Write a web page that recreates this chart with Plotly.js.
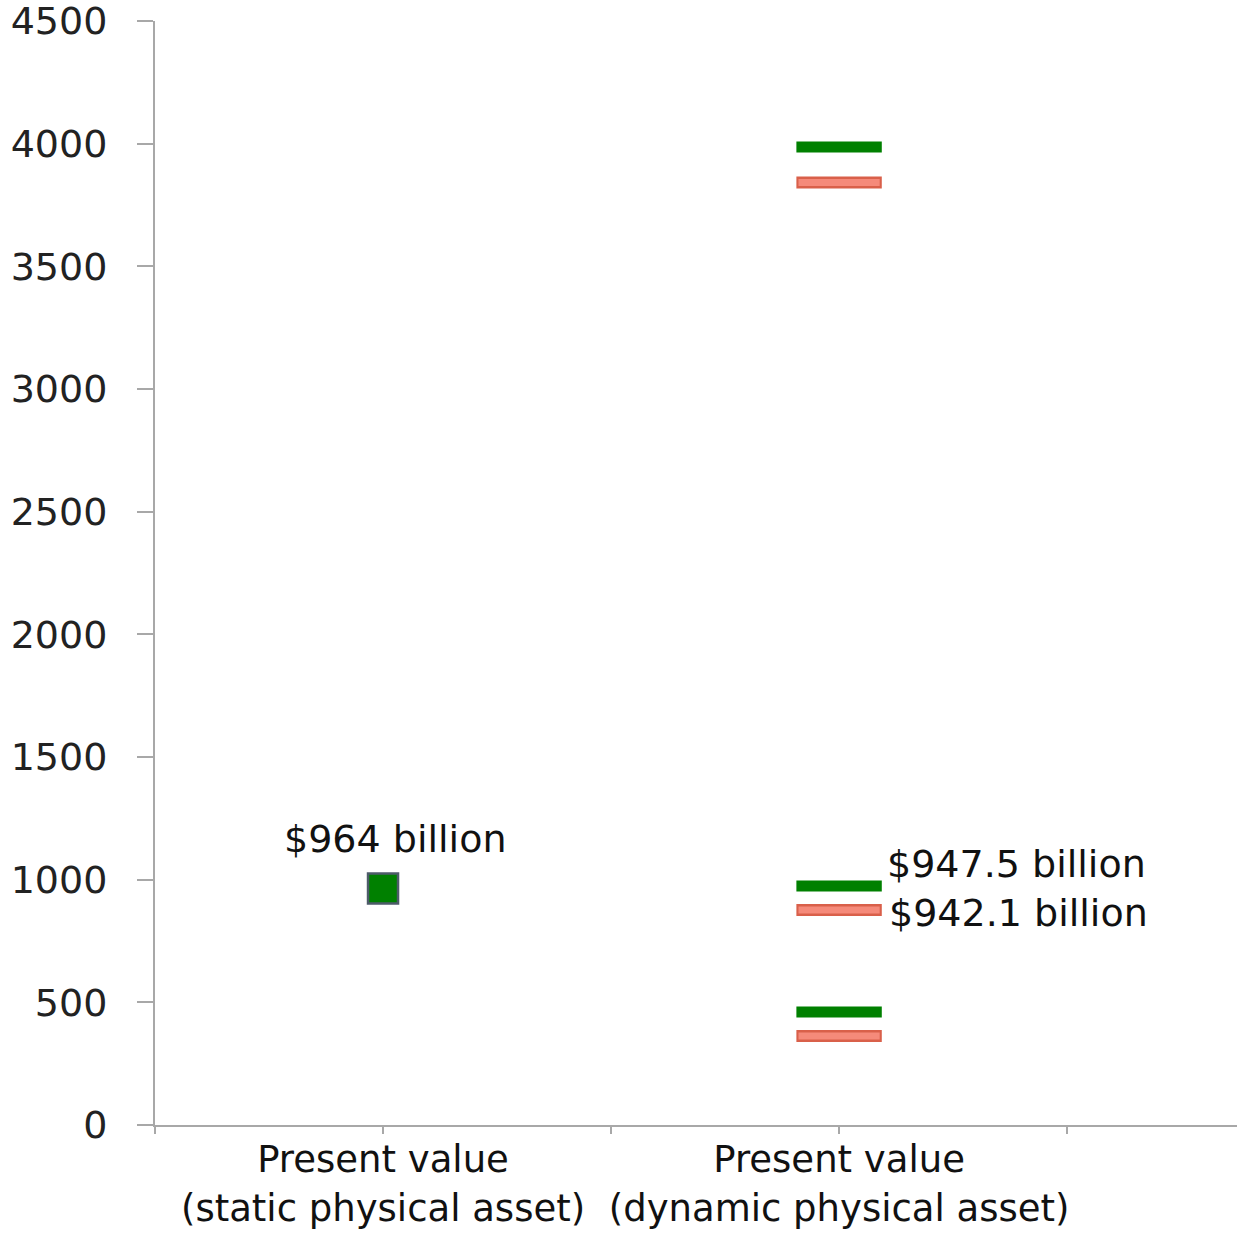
<!DOCTYPE html>
<html>
<head>
<meta charset="utf-8">
<script src="https://cdn.plot.ly/plotly-3.0.1.min.js"></script>
<style>html,body{margin:0;padding:0;background:#fff;}#chart{width:1237px;height:1235px;}</style>
</head>
<body>
<div id="chart"></div>
<script>
// Category positions and labels
const categoryPositions = [1, 3];
const categoryLabels = ['Present value<br>(static physical asset)', 'Present value<br>(dynamic physical asset)'];
const tickPositions = [0, 1, 2, 3, 4];

// Values (billions of dollars)
const staticValues = [964];
const dynamicGreenValues = [3987, 974, 461];
const dynamicRedValues = [3842, 876, 363];

// Data labels
const staticLabel = '$964 billion';
const dynamicGreenLabel = '$947.5 billion';
const dynamicRedLabel = '$942.1 billion';

const yTicks = [0, 500, 1000, 1500, 2000, 2500, 3000, 3500, 4000, 4500];

const FONT = 'DejaVu Sans';
const greenColor = '#008000';
const redEdge = '#d9604a';
const redFill = '#f58a7a';

const ticktext = tickPositions.map(p => {
  const i = categoryPositions.indexOf(p);
  return i >= 0 ? categoryLabels[i] : '';
});

const traces = [
  {
    type: 'scatter', mode: 'markers',
    x: staticValues.map(() => categoryPositions[0]), y: staticValues,
    marker: {symbol: 'square', size: 30, color: greenColor, line: {color: '#4d5b69', width: 2.5}},
    showlegend: false, hoverinfo: 'y'
  },
  {
    type: 'scatter', mode: 'markers',
    x: dynamicGreenValues.map(() => categoryPositions[1]), y: dynamicGreenValues,
    marker: {symbol: 'line-ew', size: 61, color: greenColor, line: {color: greenColor, width: 11}},
    showlegend: false, hoverinfo: 'y'
  },
  {
    type: 'scatter', mode: 'markers',
    x: dynamicRedValues.map(() => categoryPositions[1]), y: dynamicRedValues,
    marker: {symbol: 'line-ew', size: 61, color: redEdge, line: {color: redEdge, width: 12}},
    showlegend: false, hoverinfo: 'y'
  },
  {
    type: 'scatter', mode: 'markers',
    x: dynamicRedValues.map(() => categoryPositions[1]), y: dynamicRedValues,
    marker: {symbol: 'line-ew', size: 58, color: redFill, line: {color: redFill, width: 7}},
    showlegend: false, hoverinfo: 'skip'
  }
];

const annFont = {family: FONT, size: 38, color: '#111'};
const layout = {
  width: 1237, height: 1235,
  margin: {l: 155, r: 0, t: 21, b: 110},
  paper_bgcolor: '#fff', plot_bgcolor: '#fff',
  showlegend: false,
  xaxis: {
    range: [0, 4.745], tickmode: 'array', tickvals: tickPositions, ticktext: ticktext,
    showgrid: false, zeroline: false, showline: true, linecolor: '#a8a8a8', linewidth: 2,
    ticks: 'outside', ticklen: 7, tickwidth: 2, tickcolor: '#a8a8a8',
    ticklabelstandoff: -6,
    tickfont: {family: FONT, size: 37, color: '#111'}, fixedrange: true
  },
  yaxis: {
    range: [0, 4500.5], tickmode: 'array', tickvals: yTicks,
    showgrid: false, zeroline: false, showline: true, linecolor: '#a8a8a8', linewidth: 2,
    ticks: 'outside', ticklen: 16, tickwidth: 2, tickcolor: '#a8a8a8',
    ticklabelstandoff: 22, ticklabeloverflow: 'allow',
    tickfont: {family: FONT, size: 38, color: '#222'}, fixedrange: true
  },
  annotations: [
    {x: categoryPositions[0], y: staticValues[0], xref: 'x', yref: 'y', text: staticLabel,
     showarrow: false, xanchor: 'center', yanchor: 'middle', xshift: 12, yshift: 50, font: annFont},
    {x: categoryPositions[1], y: dynamicGreenValues[1], xref: 'x', yref: 'y', text: dynamicGreenLabel,
     showarrow: false, xanchor: 'left', yanchor: 'middle', xshift: 46, yshift: 22, font: annFont},
    {x: categoryPositions[1], y: dynamicRedValues[1], xref: 'x', yref: 'y', text: dynamicRedLabel,
     showarrow: false, xanchor: 'left', yanchor: 'middle', xshift: 48, yshift: -3, font: annFont}
  ]
};

Plotly.newPlot('chart', traces, layout, {displayModeBar: false, staticPlot: true});
</script>
</body>
</html>
